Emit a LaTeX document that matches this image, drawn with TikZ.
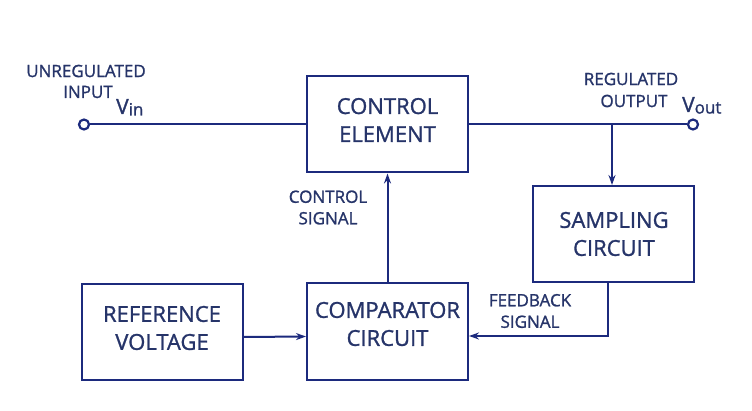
\documentclass[tikz,border=0pt]{standalone}
\usepackage{fontspec}
\setmainfont{Open Sans}[FakeBold=0.6]
\newfontfamily\tf{Open Sans}[FakeBold=1.2]
\usetikzlibrary{arrows.meta,calc}
\definecolor{lc}{RGB}{28,42,125}
\definecolor{tc}{RGB}{38,52,105}
\begin{document}
\begin{tikzpicture}[x=1pt,y=-1pt,
  blk/.style={draw=lc,line width=2pt,minimum width=161pt,minimum height=96pt,inner sep=0pt},
  btxt/.style={inner sep=0pt,align=center,text=tc,font=\tf\fontsize{22}{28}\selectfont},
  lbl/.style={text=tc,align=center,inner sep=0pt,font=\tf\fontsize{17}{21.5}\selectfont},
  wire/.style={draw=lc,line width=2pt},
  arr/.style={wire,-{Stealth[length=10pt,width=7pt]}},
  term/.style={circle,draw=lc,line width=2.2pt,minimum size=10pt,inner sep=0pt}]
\useasboundingbox (0,0) rectangle (752,411);
\fill[white] (0,0) rectangle (752,411);
\node[blk] (control) at (387.5,124.5) {};
\node[blk] (sampling) at (613.5,234) {};
\node[blk] (ref) at (162.5,332) {};
\node[blk] (comp) at (387.5,331.5) {};
\node[btxt] (controlt) at (387.5,120) {CONTROL\\ELEMENT};
\node[btxt] (samplingt) at (614,234) {SAMPLING\\CIRCUIT};
\node[btxt] (reft) at (162,328) {REFERENCE\\VOLTAGE};
\node[btxt] (compt) at (387.5,324) {COMPARATOR\\CIRCUIT};
\node[term] (in) at (84,124.5) {};
\node[term] (out) at (693,124.5) {};
\coordinate (tap) at (612,124.5);
\draw[wire] (in.east) -- (control.west);
\draw[wire] (control.east) -- (out.west);
\draw[arr] (tap) -- (tap |- sampling.north);
\draw[arr] (comp.north) -- (control.south);
\draw[arr] ([yshift=-5pt]ref.east) -- ([yshift=-5pt]comp.west);
\draw[arr] ([xshift=-5.5pt]sampling.south) |- ([yshift=-4.5pt]comp.east);
\node[lbl] (ul1) at (86,71) {UNREGULATED};
\node[lbl] (ul2) at (88,92) {INPUT};
\node[text=tc,inner sep=0pt,anchor=base west] (vin) at (116,114) {\tf\fontsize{21}{22}\selectfont V\raisebox{-1.5pt}{\fontsize{17}{18}\selectfont in}};
\node[lbl] (rl1) at (631,79) {REGULATED};
\node[lbl] (rl2) at (634,101) {OUTPUT};
\node[text=tc,inner sep=0pt,anchor=base west] (vout) at (682,112) {\tf\fontsize{21}{22}\selectfont V\raisebox{-1.5pt}{\fontsize{17}{18}\selectfont out}};
\node[lbl] (cs) at (328,207.5) {CONTROL\\SIGNAL};
\node[lbl] (fs) at (530,311) {FEEDBACK\\SIGNAL};
\end{tikzpicture}
\end{document}
